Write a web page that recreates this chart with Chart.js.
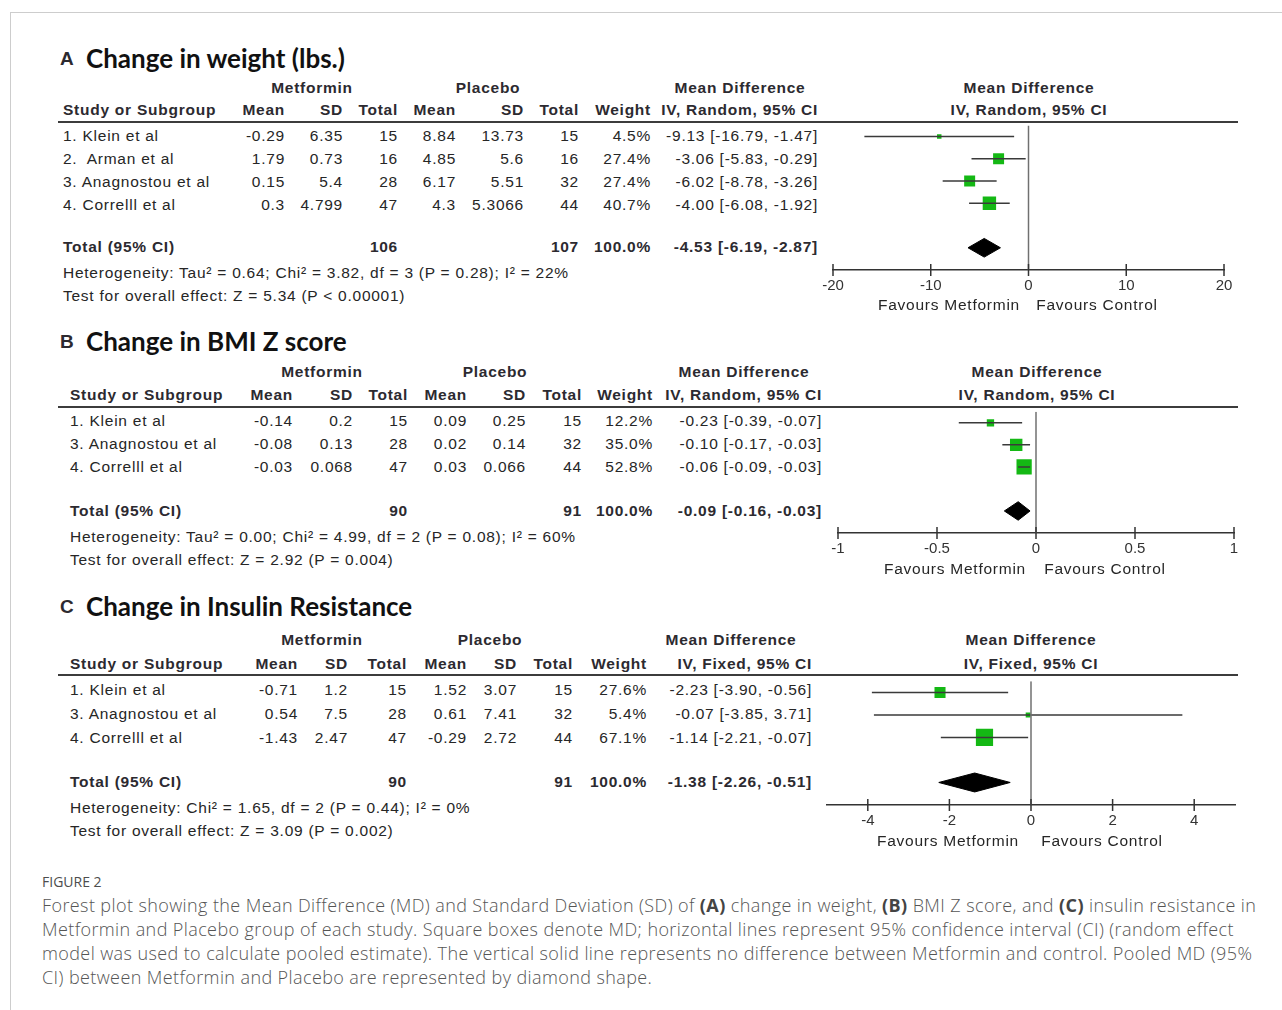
<!DOCTYPE html>
<html>
<head>
<meta charset="utf-8">
<script src="https://cdn.jsdelivr.net/npm/chart.js@4.4.1/dist/chart.umd.min.js"></script>
<style>
  html, body { margin: 0; padding: 0; background: #fff; }
  body { width: 1282px; height: 1010px; position: relative; overflow: hidden;
         font-family: "Liberation Sans", Arial, sans-serif; }
  .frame { position: absolute; left: 10px; top: 12px; width: 1290px; height: 1010px;
           border-left: 1.5px solid #cdcdcd; border-top: 1.5px solid #cdcdcd; }
  .t { position: absolute; white-space: pre; line-height: 1; font-size: 15.5px;
       letter-spacing: 0.75px; color: #262626; transform: translate(0, -50%); }
  .t.r { transform: translate(-100%, -50%); }
  .t.c { transform: translate(-50%, -50%); }
  .t.b { font-weight: bold; color: #2c2a30; }
  .ttl { font-family: Lato, "Open Sans", sans-serif; font-weight: bold; font-size: 26px;
         letter-spacing: 0; color: #111; }
  .lbl { font-weight: bold; font-size: 19px; letter-spacing: 0; color: #111; }
  .rule { position: absolute; height: 2px; background: #3c3c3c; }
  canvas { position: absolute; }
  .cap { position: absolute; left: 42px; font-family: "Open Sans", Lato, sans-serif;
         font-weight: 300; color: #555; white-space: nowrap; }
  .cap b { font-weight: bold; color: #444; }
</style>
</head>
<body>
<div class="frame"></div>
<script>
// ---------- (A) Change in weight (lbs.) ----------
const weightStudies   = ["1. Klein et al", "2.  Arman et al", "3. Anagnostou et al", "4. Correlll et al"];
const weightMetMean   = ["-0.29", "1.79", "0.15", "0.3"];
const weightMetSD     = ["6.35", "0.73", "5.4", "4.799"];
const weightMetN      = [15, 16, 28, 47];
const weightPlaMean   = ["8.84", "4.85", "6.17", "4.3"];
const weightPlaSD     = ["13.73", "5.6", "5.51", "5.3066"];
const weightPlaN      = [15, 16, 32, 44];
const weightWeight    = [4.5, 27.4, 27.4, 40.7];
const weightMD        = [-9.13, -3.06, -6.02, -4.00];
const weightLow       = [-16.79, -5.83, -8.78, -6.08];
const weightHigh      = [-1.47, -0.29, -3.26, -1.92];
const weightPooled    = [-4.53, -6.19, -2.87];   // estimate, lower, upper
const weightTotalN    = [106, 107];
const weightTotalPct  = 100.0;
const weightTicks     = [-20, -10, 0, 10, 20];
const weightTickText  = ["-20", "-10", "0", "10", "20"];
const weightHet       = "Heterogeneity: Tau² = 0.64; Chi² = 3.82, df = 3 (P = 0.28); I² = 22%";
const weightTest      = "Test for overall effect: Z = 5.34 (P < 0.00001)";

// ---------- (B) Change in BMI Z score ----------
const bmiStudies   = ["1. Klein et al", "3. Anagnostou et al", "4. Correlll et al"];
const bmiMetMean   = ["-0.14", "-0.08", "-0.03"];
const bmiMetSD     = ["0.2", "0.13", "0.068"];
const bmiMetN      = [15, 28, 47];
const bmiPlaMean   = ["0.09", "0.02", "0.03"];
const bmiPlaSD     = ["0.25", "0.14", "0.066"];
const bmiPlaN      = [15, 32, 44];
const bmiWeight    = [12.2, 35.0, 52.8];
const bmiMD        = [-0.23, -0.10, -0.06];
const bmiLow       = [-0.39, -0.17, -0.09];
const bmiHigh      = [-0.07, -0.03, -0.03];
const bmiPooled    = [-0.09, -0.16, -0.03];
const bmiTotalN    = [90, 91];
const bmiTotalPct  = 100.0;
const bmiTicks     = [-1, -0.5, 0, 0.5, 1];
const bmiTickText  = ["-1", "-0.5", "0", "0.5", "1"];
const bmiHet       = "Heterogeneity: Tau² = 0.00; Chi² = 4.99, df = 2 (P = 0.08); I² = 60%";
const bmiTest      = "Test for overall effect: Z = 2.92 (P = 0.004)";

// ---------- (C) Change in Insulin Resistance ----------
const irStudies   = ["1. Klein et al", "3. Anagnostou et al", "4. Correlll et al"];
const irMetMean   = ["-0.71", "0.54", "-1.43"];
const irMetSD     = ["1.2", "7.5", "2.47"];
const irMetN      = [15, 28, 47];
const irPlaMean   = ["1.52", "0.61", "-0.29"];
const irPlaSD     = ["3.07", "7.41", "2.72"];
const irPlaN      = [15, 32, 44];
const irWeight    = [27.6, 5.4, 67.1];
const irMD        = [-2.23, -0.07, -1.14];
const irLow       = [-3.90, -3.85, -2.21];
const irHigh      = [-0.56, 3.71, -0.07];
const irPooled    = [-1.38, -2.26, -0.51];
const irTotalN    = [90, 91];
const irTotalPct  = 100.0;
const irTicks     = [-4, -2, 0, 2, 4];
const irTickText  = ["-4", "-2", "0", "2", "4"];
const irHet       = "Heterogeneity: Chi² = 1.65, df = 2 (P = 0.44); I² = 0%";
const irTest      = "Test for overall effect: Z = 3.09 (P = 0.002)";

const GREEN = "#14b814";

function put(x, y, text, cls) {
  const el = document.createElement("div");
  el.className = "t " + (cls || "");
  el.textContent = text;
  el.style.left = x + "px";
  el.style.top = y + "px";
  document.body.appendChild(el);
  return el;
}
const fmtCI = (m, lo, hi) => `${m.toFixed(2)} [${lo.toFixed(2)}, ${hi.toFixed(2)}]`;

// tick marks that cross the axis line
const tickMarks = {
  id: "tickMarks",
  afterDraw(chart) {
    const s = chart.scales.x, ctx = chart.ctx, y = chart.chartArea.bottom;
    ctx.save();
    ctx.strokeStyle = "#333";
    ctx.lineWidth = 1.5;
    s.ticks.forEach(t => {
      const x = s.getPixelForValue(t.value);
      ctx.beginPath();
      ctx.moveTo(x, y - 6);
      ctx.lineTo(x, y + 6);
      ctx.stroke();
    });
    ctx.restore();
  }
};

function forest(L, d) {
  const padL = 30, padR = 30, padT = 6, axisH = 34;
  const W = L.px1 - L.px0 + padL + padR;
  const H = L.axisY - L.top + padT + axisH;
  const cv = document.createElement("canvas");
  cv.width = W; cv.height = H;
  cv.style.left = (L.px0 - padL) + "px";
  cv.style.top = (L.top - padT) + "px";
  cv.style.width = W + "px"; cv.style.height = H + "px";
  document.body.appendChild(cv);

  const n = d.md.length, pooledRow = n + 1, axisRow = n + 2, hh = 0.42;
  const datasets = [];
  // line of no effect
  datasets.push({ data: [{ x: 0, y: -0.5 }, { x: 0, y: axisRow }], showLine: true,
                  borderColor: "#707070", borderWidth: 1.5, pointRadius: 0 });
  // confidence intervals
  for (let i = 0; i < n; i++) {
    datasets.push({ data: [{ x: d.lo[i], y: i }, { x: d.hi[i], y: i }], showLine: true,
                    borderColor: "#3a3a3a", borderWidth: 1.5, pointRadius: 0 });
  }
  // study estimates, square size by weight
  datasets.push({ data: d.md.map((m, i) => ({ x: m, y: i })), pointStyle: "rect",
                  pointRadius: d.w.map(w => Math.max(3.5, 2.1 * Math.sqrt(w)) / Math.SQRT2),
                  backgroundColor: GREEN, pointBorderWidth: 0, borderWidth: 0 });
  // pooled estimate diamond
  const [est, lo, hi] = d.pooled;
  datasets.push({ data: [{ x: lo, y: pooledRow }, { x: est, y: pooledRow - hh },
                         { x: hi, y: pooledRow }, { x: est, y: pooledRow + hh },
                         { x: lo, y: pooledRow }],
                  showLine: true, fill: "shape", backgroundColor: "#000",
                  borderColor: "#000", borderWidth: 1, pointRadius: 0 });

  new Chart(cv, {
    type: "scatter",
    data: { datasets },
    options: {
      responsive: false, animation: false, events: [],
      layout: { padding: { left: padL, right: padR, top: padT, bottom: 0 } },
      plugins: { legend: { display: false }, tooltip: { enabled: false } },
      scales: {
        x: {
          type: "linear", min: L.xMin, max: L.xMax,
          afterBuildTicks: s => { s.ticks = d.ticks.map(v => ({ value: v })); },
          afterFit: s => { s.height = axisH; },
          grid: { display: false, drawTicks: false },
          border: { display: true, color: "#333", width: 1.5 },
          ticks: { padding: 7, color: "#333", autoSkip: false, maxRotation: 0,
                   font: { family: "Liberation Sans", size: 15 },
                   callback: (v, i) => d.tickText[i] }
        },
        y: { type: "linear", display: false, min: -0.5, max: axisRow, reverse: true }
      }
    },
    plugins: [tickMarks]
  });

  put(L.favM, L.favY, "Favours Metformin", "c");
  put(L.favC, L.favY, "Favours Control", "c");
}

function panel(L, d) {
  put(60, L.titleY, L.letter, "lbl b");
  put(86, L.titleY, L.title, "ttl");
  put(L.col.met, L.groupY, "Metformin", "c b");
  put(L.col.pla, L.groupY, "Placebo", "c b");
  put(L.col.mdHead, L.groupY, "Mean Difference", "c b");
  put(L.col.study, L.headY, "Study or Subgroup", "b");
  put(L.col.mMean, L.headY, "Mean", "r b");
  put(L.col.mSD, L.headY, "SD", "r b");
  put(L.col.mN, L.headY, "Total", "r b");
  put(L.col.pMean, L.headY, "Mean", "r b");
  put(L.col.pSD, L.headY, "SD", "r b");
  put(L.col.pN, L.headY, "Total", "r b");
  put(L.col.wt, L.headY, "Weight", "r b");
  put(L.col.ci, L.headY, d.method, "r b");
  put(L.fHead, L.groupY, "Mean Difference", "c b");
  put(L.fHead, L.headY, d.method, "c b");

  const rule = document.createElement("div");
  rule.className = "rule";
  rule.style.left = "58px"; rule.style.width = (1238 - 58) + "px";
  rule.style.top = (L.lineY - 1) + "px";
  document.body.appendChild(rule);

  d.studies.forEach((s, i) => {
    const y = L.rows[i];
    put(L.col.study, y, s);
    put(L.col.mMean, y, d.mMean[i], "r");
    put(L.col.mSD, y, d.mSD[i], "r");
    put(L.col.mN, y, String(d.mN[i]), "r");
    put(L.col.pMean, y, d.pMean[i], "r");
    put(L.col.pSD, y, d.pSD[i], "r");
    put(L.col.pN, y, String(d.pN[i]), "r");
    put(L.col.wt, y, d.w[i].toFixed(1) + "%", "r");
    put(L.col.ci, y, fmtCI(d.md[i], d.lo[i], d.hi[i]), "r");
  });
  put(L.col.study, L.totalY, "Total (95% CI)", "b");
  put(L.col.mN, L.totalY, String(d.totalN[0]), "r b");
  put(L.col.pN, L.totalY, String(d.totalN[1]), "r b");
  put(L.col.wt, L.totalY, d.totalPct.toFixed(1) + "%", "r b");
  put(L.col.ci, L.totalY, fmtCI(d.pooled[0], d.pooled[1], d.pooled[2]), "r b");
  put(L.col.study, L.hetY, d.het);
  put(L.col.study, L.testY, d.test);

  forest(L, d);
}

panel({
  letter: "A", title: "Change in weight (lbs.)", titleY: 58,
  groupY: 88, headY: 110, lineY: 122, rows: [136, 159, 182, 205], totalY: 247, hetY: 273, testY: 296,
  col: { study: 63, mMean: 285, mSD: 343, mN: 398, pMean: 456, pSD: 524, pN: 579, wt: 651, ci: 818,
         met: 312, pla: 488, mdHead: 740 },
  fHead: 1029, xMin: -20, xMax: 20, px0: 833, px1: 1224, top: 122, axisY: 270,
  favY: 305, favM: 949, favC: 1097
}, {
  method: "IV, Random, 95% CI",
  studies: weightStudies, mMean: weightMetMean, mSD: weightMetSD, mN: weightMetN,
  pMean: weightPlaMean, pSD: weightPlaSD, pN: weightPlaN, w: weightWeight,
  md: weightMD, lo: weightLow, hi: weightHigh, pooled: weightPooled, totalN: weightTotalN,
  totalPct: weightTotalPct, ticks: weightTicks, tickText: weightTickText, het: weightHet, test: weightTest
});

panel({
  letter: "B", title: "Change in BMI Z score", titleY: 341,
  groupY: 372, headY: 395, lineY: 407, rows: [421, 444, 467], totalY: 511, hetY: 537, testY: 560,
  col: { study: 70, mMean: 293, mSD: 353, mN: 408, pMean: 467, pSD: 526, pN: 582, wt: 653, ci: 822,
         met: 322, pla: 495, mdHead: 744 },
  fHead: 1037, xMin: -1, xMax: 1, px0: 838, px1: 1234, top: 407, axisY: 533,
  favY: 569, favM: 955, favC: 1105
}, {
  method: "IV, Random, 95% CI",
  studies: bmiStudies, mMean: bmiMetMean, mSD: bmiMetSD, mN: bmiMetN,
  pMean: bmiPlaMean, pSD: bmiPlaSD, pN: bmiPlaN, w: bmiWeight,
  md: bmiMD, lo: bmiLow, hi: bmiHigh, pooled: bmiPooled, totalN: bmiTotalN,
  totalPct: bmiTotalPct, ticks: bmiTicks, tickText: bmiTickText, het: bmiHet, test: bmiTest
});

panel({
  letter: "C", title: "Change in Insulin Resistance", titleY: 606,
  groupY: 640, headY: 664, lineY: 675, rows: [690, 714, 738], totalY: 782, hetY: 808, testY: 831,
  col: { study: 70, mMean: 298, mSD: 348, mN: 407, pMean: 467, pSD: 517, pN: 573, wt: 647, ci: 812,
         met: 322, pla: 490, mdHead: 731 },
  fHead: 1031, xMin: -5, xMax: 5, px0: 827, px1: 1235, top: 675, axisY: 805,
  favY: 841, favM: 948, favC: 1102
}, {
  method: "IV, Fixed, 95% CI",
  studies: irStudies, mMean: irMetMean, mSD: irMetSD, mN: irMetN,
  pMean: irPlaMean, pSD: irPlaSD, pN: irPlaN, w: irWeight,
  md: irMD, lo: irLow, hi: irHigh, pooled: irPooled, totalN: irTotalN,
  totalPct: irTotalPct, ticks: irTicks, tickText: irTickText, het: irHet, test: irTest
});
</script>

<div class="cap" style="top:872px;font-size:14px;font-weight:400;color:#4d4d4d;">FIGURE 2</div>
<div class="cap" style="top:893px;font-size:18px;letter-spacing:0.4px;line-height:24px;">
Forest plot showing the Mean Difference (MD) and Standard Deviation (SD) of <b>(A)</b> change in weight, <b>(B)</b> BMI Z score, and <b>(C)</b> insulin resistance in<br>
Metformin and Placebo group of each study. Square boxes denote MD; horizontal lines represent 95% confidence interval (CI) (random effect<br>
model was used to calculate pooled estimate). The vertical solid line represents no difference between Metformin and control. Pooled MD (95%<br>
CI) between Metformin and Placebo are represented by diamond shape.
</div>
</body>
</html>
